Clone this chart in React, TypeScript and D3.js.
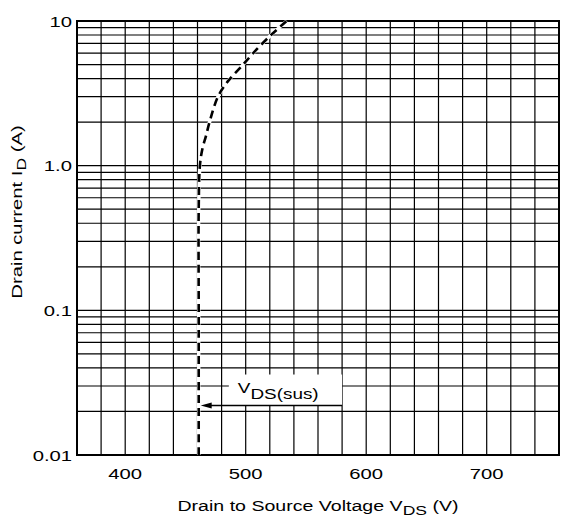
import React from 'react';
import * as d3 from 'd3';

// V_DS(sus) curve
const vdsSus = [461, 461, 461, 462, 464, 467, 470, 477, 486, 497, 507, 521, 534];
const idSus = [0.01, 0.1, 0.5, 1.0, 1.3, 1.6, 2.0, 3.0, 3.9, 4.9, 6.1, 8.0, 10];

const xTicks = [400, 500, 600, 700];
const yTicks = [0.01, 0.1, 1, 10];
const yTickLabels = ['0.01', '0.1', '1.0', '10'];

const W = 563;
const H = 526;
const left = 77, right = 559, top = 21, bottom = 455;
const FONT = 'Liberation Sans, Arial, sans-serif';
const SX = 1.35; // the original lettering is an extended face

const App = () => {
  const x = d3.scaleLinear().domain([360, 760]).range([left, right]);
  const y = d3.scaleLog().domain([0.01, 10]).range([bottom, top]);

  const vGrid = d3.range(360, 761, 20);
  const hGrid: number[] = [];
  [0.01, 0.1, 1].forEach(d => {
    for (let k = 1; k <= 9; k++) hGrid.push(+(d * k).toPrecision(3));
  });
  hGrid.push(10);

  const pts: [number, number][] = vdsSus.map((v, i) => [x(v), y(idSus[i])]);
  const line = d3.line().curve(d3.curveCatmullRom.alpha(0.5));
  const path = line(pts) || '';

  // annotation box + arrow
  const arrowY = y(0.022);
  const boxTop = y(0.036);
  const boxL = x(486);
  const boxR = x(580);
  const tipX = x(461) + 2;

  return (
    <svg width={W} height={H} style={{ position: 'absolute', left: 0, top: 0, background: '#fff' }}>
      <g stroke="#000" strokeWidth={1.2}>
        {vGrid.map(v => (
          <line key={'v' + v} x1={x(v)} x2={x(v)} y1={top} y2={bottom} />
        ))}
        {hGrid.map(d => (
          <line key={'h' + d} x1={left} x2={right} y1={y(d)} y2={y(d)} />
        ))}
      </g>
      <rect x={left} y={top} width={right - left} height={bottom - top} fill="none" stroke="#000" strokeWidth={2} />

      {/* white under the curve so grid does not fill the gaps */}
      <path d={path} fill="none" stroke="#fff" strokeWidth={3.5} />
      <path d={path} fill="none" stroke="#000" strokeWidth={2.6} strokeDasharray="8,5" />

      {/* V_DS(sus) label */}
      <rect x={boxL} y={boxTop} width={boxR - boxL} height={arrowY - boxTop} fill="#fff" />
      <line x1={tipX + 8} x2={boxR} y1={arrowY} y2={arrowY} stroke="#000" strokeWidth={1.5} />
      <path d={`M${tipX},${arrowY} L${tipX + 11},${arrowY - 3} L${tipX + 11},${arrowY + 3} Z`} fill="#000" />
      <text transform={`translate(${boxL + 9},${arrowY - 12}) scale(${SX},1)`} fontFamily={FONT} fontSize={14}>
        <tspan>V</tspan>
        <tspan dy={6}>DS(sus)</tspan>
      </text>

      {/* y tick labels */}
      {yTicks.map((d, i) => (
        <text key={d} transform={`translate(72,${y(d) + 5.5}) scale(${SX},1)`} textAnchor="end"
          fontFamily={FONT} fontSize={15}>{yTickLabels[i]}</text>
      ))}
      {/* x tick labels */}
      {xTicks.map(v => (
        <text key={v} transform={`translate(${x(v)},479) scale(${SX},1)`} textAnchor="middle"
          fontFamily={FONT} fontSize={15}>{v}</text>
      ))}

      <text transform={`translate(${(left + right) / 2},511) scale(${SX},1)`} textAnchor="middle"
        fontFamily={FONT} fontSize={14.5}>
        <tspan>Drain to Source Voltage V</tspan>
        <tspan fontSize={13} dy={4}>DS</tspan>
        <tspan dy={-4}> (V)</tspan>
      </text>
      <text transform={`translate(22,212) rotate(-90) scale(${SX},1)`} textAnchor="middle"
        fontFamily={FONT} fontSize={15}>
        <tspan>Drain current I</tspan>
        <tspan fontSize={13} dy={4}>D</tspan>
        <tspan dy={-4}> (A)</tspan>
      </text>
    </svg>
  );
};

export default App;
